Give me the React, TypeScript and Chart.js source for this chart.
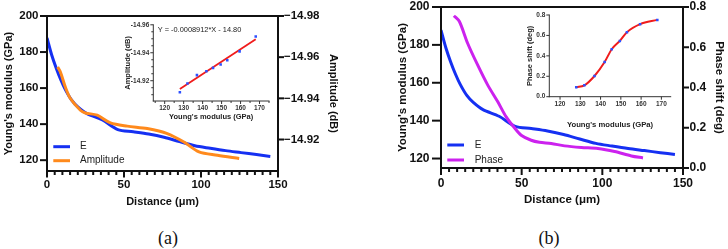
import React, { useEffect, useRef } from 'react';
import { Chart, registerables } from 'chart.js';

Chart.register(...registerables);

const SANS = '"Liberation Sans", Arial, Helvetica, sans-serif';
const INK = '#111111';

const E_COLOR = '#1530f2';
const AMP_COLOR = '#ff8a1c';
const PHASE_COLOR = '#cc22ee';
const FIT_COLOR = '#f01c1c';
const DOT_COLOR = '#2e50ff';

// Young's modulus along the scan line (distance in µm, modulus in GPa)
const E_DIST = [0, 3, 6, 9, 12, 16, 20, 26, 36, 46, 56, 66, 76, 86, 96, 106, 116, 126, 136, 145];
const E_GPA = [187.8, 178.5, 171, 164.5, 159, 153.3, 149.6, 145.8, 142.3, 137, 135.8, 134.5, 132.7, 130.3, 128, 126.6, 125.3, 124.2, 123.1, 122.1];

// Amplitude profile (dB)
const AMP_DIST = [6.9, 8.7, 11.9, 15.2, 21.7, 24.9, 32.6, 41.2, 52.1, 65.1, 78.1, 88.9, 98.7, 110.7, 124.8];
const AMP_DB = [-14.9552, -14.9528, -14.9455, -14.9399, -14.9342, -14.9329, -14.9318, -14.9281, -14.9265, -14.9253, -14.9229, -14.9188, -14.914, -14.9124, -14.9108];

// Phase shift profile (deg)
const PHASE_DIST = [8, 11.4, 16.5, 22.7, 28.9, 35.2, 40.4, 45.5, 49.7, 55.9, 61, 68.3, 76.6, 87, 97.3, 107.6, 118, 125.2];
const PHASE_DEG = [0.757, 0.728, 0.62, 0.512, 0.413, 0.329, 0.254, 0.2, 0.163, 0.138, 0.128, 0.122, 0.11, 0.102, 0.097, 0.082, 0.06, 0.05];

// Correlation insets: modulus against amplitude / phase
const FIT_E = [128, 132, 137, 142, 145.5, 149.5, 153, 159.5, 168];
const FIT_AMP = [-14.9117, -14.918, -14.924, -14.9268, -14.9292, -14.9316, -14.9347, -14.941, -14.9516];
const FIT_PHASE = [0.092, 0.112, 0.203, 0.34, 0.465, 0.546, 0.631, 0.71, 0.752];

// Linear regression of amplitude on modulus
const AMP_SLOPE = -0.0008912;
const AMP_INTERCEPT = -14.8;

// Tick values
const DIST_TICKS = [0, 50, 100, 150];
const E_TICKS = [120, 140, 160, 180, 200];
const AMP_TICKS = [-14.98, -14.96, -14.94, -14.92];
const PHASE_TICKS = [0, 0.2, 0.4, 0.6, 0.8];
const INSET_E_TICKS = [120, 130, 140, 150, 160, 170];
const INSET_AMP_TICKS = [-14.96, -14.94, -14.92];
const INSET_PHASE_TICKS = [0, 0.2, 0.4, 0.6, 0.8];

const pairs = (xs: number[], ys: number[]) => xs.map((x, i) => ({ x, y: ys[i] }));

type Side = 'left' | 'right' | 'bottom';
interface AxisDraw {
  scale: string;
  side: Side;
  major: number[];
  minorStep?: number;
  majorLen: number;
  minorLen?: number;
}
interface FrameDraw {
  axes: AxisDraw[];
  top?: boolean;
  width: number;
  color: string;
}

// Axis lines with major/minor tick marks, drawn on top of the plotted data
function framePlugin(spec: FrameDraw) {
  return {
    id: 'frameAxes',
    afterDatasetsDraw(chart: any) {
      const { ctx, chartArea: a } = chart;
      const h = spec.width / 2;
      ctx.save();
      ctx.strokeStyle = spec.color;
      ctx.lineWidth = spec.width;
      ctx.lineCap = 'butt';
      const seg = (x1: number, y1: number, x2: number, y2: number) => {
        ctx.beginPath();
        ctx.moveTo(x1, y1);
        ctx.lineTo(x2, y2);
        ctx.stroke();
      };
      if (spec.top) seg(a.left - h, a.top, a.right + h, a.top);
      for (const ax of spec.axes) {
        const s = chart.scales[ax.scale];
        const marks: [number, number][] = ax.major.map((v) => [v, ax.majorLen] as [number, number]);
        if (ax.minorStep) {
          const step = ax.minorStep;
          const lo = Math.min(s.min, s.max);
          const hi = Math.max(s.min, s.max);
          const first = Math.ceil(lo / step - 1e-9);
          for (let k = first; k * step <= hi + 1e-9; k++) {
            const v = k * step;
            if (!ax.major.some((m) => Math.abs(m - v) < step * 1e-3)) {
              marks.push([v, ax.minorLen ?? ax.majorLen / 2]);
            }
          }
        }
        if (ax.side === 'bottom') {
          seg(a.left - h, a.bottom, a.right + h, a.bottom);
          for (const [v, len] of marks) {
            const x = s.getPixelForValue(v);
            seg(x, a.bottom, x, a.bottom + h + len);
          }
        } else {
          const x0 = ax.side === 'left' ? a.left : a.right;
          const dir = ax.side === 'left' ? -1 : 1;
          seg(x0, a.top - h, x0, a.bottom + h);
          for (const [v, len] of marks) {
            const y = s.getPixelForValue(v);
            seg(x0, y, x0 + dir * (h + len), y);
          }
        }
      }
      ctx.restore();
    },
  };
}

// Legend placed inside the plot area, one row per dataset
function innerLegend(pos: { x: number; y: number; dy: number; len: number; gap: number }) {
  return {
    id: 'innerLegend',
    afterDraw(chart: any) {
      const { ctx } = chart;
      ctx.save();
      chart.data.datasets.forEach((ds: any, i: number) => {
        const y = pos.y + i * pos.dy;
        ctx.strokeStyle = ds.borderColor;
        ctx.lineWidth = ds.borderWidth;
        ctx.beginPath();
        ctx.moveTo(pos.x, y);
        ctx.lineTo(pos.x + pos.len, y);
        ctx.stroke();
        ctx.fillStyle = '#222222';
        ctx.font = `10px ${SANS}`;
        ctx.textAlign = 'left';
        ctx.textBaseline = 'middle';
        ctx.fillText(ds.label, pos.x + pos.len + pos.gap, y);
      });
      ctx.restore();
    },
  };
}

// Regression equation printed in the amplitude inset
function equationPlugin(x: number, y: number) {
  return {
    id: 'equation',
    afterDraw(chart: any) {
      const { ctx } = chart;
      const text = `Y = ${AMP_SLOPE.toFixed(7)}*X - ${Math.abs(AMP_INTERCEPT).toFixed(2)}`;
      ctx.save();
      ctx.fillStyle = '#222222';
      ctx.font = `7.4px ${SANS}`;
      ctx.textAlign = 'left';
      ctx.textBaseline = 'middle';
      ctx.fillText(text, x, y);
      ctx.restore();
    },
  };
}

const fixedSize = (size: number, dim: 'w' | 'h') => (s: any) => {
  if (dim === 'w') s.width = size;
  else s.height = size;
  s.paddingTop = 0;
  s.paddingBottom = 0;
  s.paddingLeft = 0;
  s.paddingRight = 0;
};
const listTicks = (values: number[]) => (s: any) => {
  s.ticks = values.map((value) => ({ value }));
};
const bare = { grid: { display: false, drawTicks: false }, border: { display: false } };
const font = (size: number, bold = true) => ({ family: SANS, size, weight: bold ? ('bold' as const) : ('normal' as const) });

const commonOptions = (padding: any) => ({
  responsive: false,
  animation: false as const,
  devicePixelRatio: 1,
  events: [] as any[],
  layout: { padding, autoPadding: false },
  plugins: { legend: { display: false }, tooltip: { enabled: false } },
});

const MINUS = '\u2212';

function amplitudePanel(): any {
  return {
    type: 'line',
    data: {
      datasets: [
        { label: 'E', data: pairs(E_DIST, E_GPA), yAxisID: 'y', borderColor: E_COLOR, borderWidth: 3, pointRadius: 0, tension: 0.3, order: 2 },
        { label: 'Amplitude', data: pairs(AMP_DIST, AMP_DB), yAxisID: 'y1', borderColor: AMP_COLOR, borderWidth: 3, pointRadius: 0, tension: 0.3, order: 1 },
      ],
    },
    options: {
      ...commonOptions({ top: 16, left: 0, right: 0, bottom: 0 }),
      scales: {
        x: {
          type: 'linear', min: 0, max: 150, bounds: 'data', ...bare,
          afterBuildTicks: listTicks(DIST_TICKS), afterFit: fixedSize(44, 'h'),
          ticks: { font: font(11.5), color: INK, padding: 7, autoSkip: false, maxRotation: 0 },
          title: { display: true, text: 'Distance (μm)', font: font(11), color: INK, padding: { top: 0, bottom: 6.7 } },
        },
        y: {
          type: 'linear', position: 'left', min: 114, max: 200, bounds: 'data', ...bare,
          afterBuildTicks: listTicks(E_TICKS), afterFit: fixedSize(47, 'w'),
          ticks: { font: font(11.5), color: INK, padding: 8.5, autoSkip: false },
          title: { display: true, text: "Young's modulus (GPa)", font: font(11), color: INK, padding: { top: 2, bottom: 0 } },
        },
        y1: {
          type: 'linear', position: 'right', min: -14.98, max: -14.9047, reverse: true, bounds: 'data', ...bare,
          afterBuildTicks: listTicks(AMP_TICKS), afterFit: fixedSize(86, 'w'),
          ticks: { font: font(11.5), color: INK, padding: 6, autoSkip: false, callback: (v: number) => MINUS + Math.abs(v).toFixed(2) },
          title: { display: true, text: 'Amplitude (dB)', font: font(11), color: INK, padding: { top: 24, bottom: 0 } },
        },
      },
    },
    plugins: [
      framePlugin({
        width: 2, color: INK, top: true,
        axes: [
          { scale: 'x', side: 'bottom', major: DIST_TICKS, minorStep: 5, majorLen: 5.5, minorLen: 3 },
          { scale: 'y', side: 'left', major: E_TICKS, majorLen: 6 },
          { scale: 'y1', side: 'right', major: AMP_TICKS, majorLen: 5 },
        ],
      }),
      innerLegend({ x: 53.3, y: 146.7, dy: 14, len: 16.7, gap: 10 }),
    ],
  };
}

function phasePanel(): any {
  return {
    type: 'line',
    data: {
      datasets: [
        { label: 'E', data: pairs(E_DIST, E_GPA), yAxisID: 'y', borderColor: E_COLOR, borderWidth: 3, pointRadius: 0, tension: 0.3, order: 2 },
        { label: 'Phase', data: pairs(PHASE_DIST, PHASE_DEG), yAxisID: 'y1', borderColor: PHASE_COLOR, borderWidth: 3, pointRadius: 0, tension: 0.3, order: 1 },
      ],
    },
    options: {
      ...commonOptions({ top: 7, left: 0, right: 0, bottom: 0 }),
      scales: {
        x: {
          type: 'linear', min: 0, max: 150, bounds: 'data', ...bare,
          afterBuildTicks: listTicks(DIST_TICKS), afterFit: fixedSize(47, 'h'),
          ticks: { font: font(12), color: INK, padding: 8, autoSkip: false, maxRotation: 0 },
          title: { display: true, text: 'Distance (μm)', font: font(11.5), color: INK, padding: { top: 0, bottom: 8.4 } },
        },
        y: {
          type: 'linear', position: 'left', min: 115, max: 200, bounds: 'data', ...bare,
          afterBuildTicks: listTicks(E_TICKS), afterFit: fixedSize(77, 'w'),
          ticks: { font: font(12), color: INK, padding: 11.5, autoSkip: false },
          title: { display: true, text: "Young's modulus (GPa)", font: font(11.5), color: INK, padding: { top: 31.5, bottom: 0 } },
        },
        y1: {
          type: 'linear', position: 'right', min: 0, max: 0.8, bounds: 'data', ...bare,
          afterBuildTicks: listTicks(PHASE_TICKS), afterFit: fixedSize(45, 'w'),
          ticks: { font: font(12), color: INK, padding: 6.5, autoSkip: false, callback: (v: number) => v.toFixed(1) },
          title: { display: true, text: 'Phase shift (deg)', font: font(11.5), color: INK, padding: { top: 2, bottom: 0 } },
        },
      },
    },
    plugins: [
      framePlugin({
        width: 2, color: INK, top: true,
        axes: [
          { scale: 'x', side: 'bottom', major: DIST_TICKS, minorStep: 5, majorLen: 6, minorLen: 3 },
          { scale: 'y', side: 'left', major: E_TICKS, majorLen: 8 },
          { scale: 'y1', side: 'right', major: PHASE_TICKS, majorLen: 5 },
        ],
      }),
      innerLegend({ x: 83.3, y: 145, dy: 15, len: 16.7, gap: 10.7 }),
    ],
  };
}

const INSET_GREY = '#333333';

function amplitudeInset(): any {
  const x0 = FIT_E[0];
  const x1 = FIT_E[FIT_E.length - 1];
  return {
    type: 'line',
    data: {
      datasets: [
        {
          label: 'fit',
          data: [{ x: x0, y: AMP_SLOPE * x0 + AMP_INTERCEPT }, { x: x1, y: AMP_SLOPE * x1 + AMP_INTERCEPT }],
          borderColor: FIT_COLOR, borderWidth: 1.8, pointRadius: 0, order: 2,
        },
        {
          label: 'points', data: pairs(FIT_E, FIT_AMP), showLine: false, pointStyle: 'rect', pointRadius: 1.8,
          pointBackgroundColor: DOT_COLOR, pointBorderWidth: 0, order: 1,
        },
      ],
    },
    options: {
      ...commonOptions({ top: 9.8, left: 0, right: 6, bottom: 0 }),
      scales: {
        x: {
          type: 'linear', min: 114, max: 175, bounds: 'data', ...bare,
          afterBuildTicks: listTicks(INSET_E_TICKS), afterFit: fixedSize(29, 'h'),
          ticks: { font: font(6.5), color: INSET_GREY, padding: 3, autoSkip: false, maxRotation: 0 },
          title: { display: true, text: "Young's modulus (GPa)", font: font(7.5), color: '#222222', padding: { top: 0, bottom: 8.8 } },
        },
        y: {
          type: 'linear', position: 'left', min: -14.96, max: -14.9055, reverse: true, bounds: 'data', ...bare,
          afterBuildTicks: listTicks(INSET_AMP_TICKS), afterFit: fixedSize(43.3, 'w'),
          ticks: { font: font(6.5), color: INSET_GREY, padding: 4, autoSkip: false, callback: (v: number) => v.toFixed(2) },
          title: { display: true, text: 'Amplitude (dB)', font: font(7.5), color: '#222222', padding: { top: 13, bottom: 0 } },
        },
      },
    },
    plugins: [
      framePlugin({
        width: 1, color: INSET_GREY,
        axes: [
          { scale: 'x', side: 'bottom', major: INSET_E_TICKS, minorStep: 5, majorLen: 2.5, minorLen: 1.5 },
          { scale: 'y', side: 'left', major: INSET_AMP_TICKS, minorStep: 0.005, majorLen: 2.5, minorLen: 1.5 },
        ],
      }),
      equationPlugin(47.7, 15),
    ],
  };
}

function phaseInset(): any {
  return {
    type: 'line',
    data: {
      datasets: [
        {
          label: 'fit', data: pairs(FIT_E, FIT_PHASE), borderColor: FIT_COLOR, borderWidth: 2,
          pointRadius: 0, cubicInterpolationMode: 'monotone', order: 2,
        },
        {
          label: 'points', data: pairs(FIT_E, FIT_PHASE), showLine: false, pointStyle: 'rect', pointRadius: 1.8,
          pointBackgroundColor: DOT_COLOR, pointBorderWidth: 0, order: 1,
        },
      ],
    },
    options: {
      ...commonOptions({ top: 15, left: 0, right: 9.3, bottom: 0 }),
      scales: {
        x: {
          type: 'linear', min: 114.7, max: 174.6, bounds: 'data', ...bare,
          afterBuildTicks: listTicks(INSET_E_TICKS), afterFit: fixedSize(38.3, 'h'),
          ticks: { font: font(6.5), color: INSET_GREY, padding: 4, autoSkip: false, maxRotation: 0 },
          title: { display: true, text: "Young's modulus (GPa)", font: font(7.7), color: '#222222', padding: { top: 0, bottom: 5.5 } },
        },
        y: {
          type: 'linear', position: 'left', min: 0, max: 0.8, bounds: 'data', ...bare,
          afterBuildTicks: listTicks(INSET_PHASE_TICKS), afterFit: fixedSize(49.3, 'w'),
          ticks: { font: font(6.5), color: INSET_GREY, padding: 4, autoSkip: false, callback: (v: number) => v.toFixed(1) },
          title: { display: true, text: 'Phase shift (deg)', font: font(7.5), color: '#222222', padding: { top: 25.5, bottom: 0 } },
        },
      },
    },
    plugins: [
      framePlugin({
        width: 1, color: INSET_GREY,
        axes: [
          { scale: 'x', side: 'bottom', major: INSET_E_TICKS, majorLen: 2.5 },
          { scale: 'y', side: 'left', major: INSET_PHASE_TICKS, majorLen: 2.5 },
        ],
      }),
    ],
  };
}

interface Placed {
  left: number;
  top: number;
  width: number;
  height: number;
  build: () => any;
}

const LAYERS: Placed[] = [
  { left: 0, top: 0, width: 364, height: 215, build: amplitudePanel },
  { left: 364, top: 0, width: 364, height: 215, build: phasePanel },
  { left: 110, top: 15, width: 165, height: 115, build: amplitudeInset },
  { left: 500, top: 0, width: 180, height: 135, build: phaseInset },
];

function ChartLayer({ layer }: { layer: Placed }) {
  const ref = useRef<HTMLCanvasElement | null>(null);
  useEffect(() => {
    if (!ref.current) return;
    const chart = new Chart(ref.current, layer.build());
    return () => chart.destroy();
  }, [layer]);
  return (
    <canvas
      ref={ref}
      width={layer.width}
      height={layer.height}
      style={{ position: 'absolute', left: layer.left, top: layer.top, width: layer.width, height: layer.height }}
    />
  );
}

const captionStyle = (x: number): React.CSSProperties => ({
  position: 'absolute',
  left: x,
  top: 238,
  transform: 'translate(-50%, -50%)',
  fontFamily: '"Liberation Serif", "Times New Roman", serif',
  fontSize: 18,
  color: '#111111',
  lineHeight: 1,
  whiteSpace: 'nowrap',
});

export default function App() {
  return (
    <div style={{ position: 'absolute', left: 0, top: 0, width: 728, height: 249, background: '#ffffff', overflow: 'hidden' }}>
      {LAYERS.map((layer, i) => (
        <ChartLayer key={i} layer={layer} />
      ))}
      <span style={captionStyle(168)}>(a)</span>
      <span style={captionStyle(549)}>(b)</span>
    </div>
  );
}
